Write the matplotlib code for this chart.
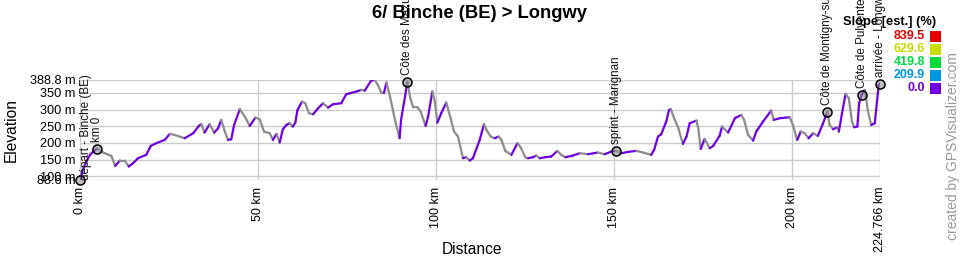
import numpy as np
import matplotlib
matplotlib.use("Agg")
import matplotlib.pyplot as plt
from matplotlib.collections import LineCollection
from matplotlib.patches import Rectangle

plt.rcParams['font.family'] = ['Liberation Sans', 'DejaVu Sans']

# ---------------- data ----------------
dist_km = [0.0, 0.8, 1.8, 2.8, 3.7, 4.9, 6.5, 8.8, 9.9, 11.2, 12.6, 13.7, 14.9, 16.3, 18.6,
           19.9, 21.4, 23.8, 25.2, 26.6, 28.0, 29.4, 31.8, 33.4, 34.1, 35.0, 36.4, 37.7,
           38.8, 39.7, 40.7, 41.6, 42.5, 43.3, 44.9, 46.3, 47.7, 49.3, 50.5, 51.7, 53.3,
           54.2, 55.2, 56.1, 57.0, 58.0, 58.9, 59.8, 60.5, 61.1, 62.4, 63.3, 64.3, 65.5,
           66.9, 68.3, 69.7, 71.1, 73.4, 74.8, 75.8, 77.6, 79.0, 80.0, 81.8, 82.8, 83.7,
           84.7, 85.4, 86.1, 87.1, 88.5, 89.8, 90.2, 91.0, 92.0, 92.8, 93.6, 94.8, 95.7,
           97.1, 97.8, 99.0, 99.7, 100.4, 101.5, 102.9, 104.2, 105.1, 106.2, 107.6, 108.5,
           109.5, 110.4, 112.3, 113.5, 114.2, 115.4, 116.5, 117.6, 118.4, 119.5, 121.2,
           122.9, 123.8, 125.1, 125.9, 127.3, 128.2, 129.2, 130.6, 132.4, 134.1, 135.2,
           136.4, 138.5, 140.4, 142.7, 145.5, 147.4, 149.3, 150.5, 152.1, 154.0, 156.3,
           158.2, 160.5, 161.3, 162.4, 163.3, 164.7, 165.5, 166.0, 167.1, 168.0, 169.4,
           170.4, 171.3, 173.2, 173.7, 174.4, 175.5, 176.9, 177.9, 179.7, 180.4, 182.1,
           184.0, 185.8, 186.6, 187.7, 189.1, 190.0, 191.9, 194.2, 194.9, 196.6, 199.4,
           200.3, 201.5, 202.5, 203.6, 204.7, 206.0, 207.3, 208.7, 210.0, 210.6, 211.6,
           212.8, 213.2, 214.1, 215.1, 216.0, 216.9, 217.5, 218.4, 218.9, 219.6, 220.5,
           221.4, 222.3, 223.3, 224.4, 224.766]
elev_m = [88.6, 119, 144, 164, 174, 183, 171, 161, 131, 147, 147, 129, 139, 154, 164,
          191, 199, 209, 227, 224, 219, 214, 229, 251, 256, 231, 256, 231,
          244, 269, 234, 209, 211, 254, 301, 279, 251, 276, 271, 234, 229,
          209, 227, 201, 241, 254, 259, 249, 261, 299, 324, 319, 289, 286,
          304, 319, 306, 316, 319, 346, 349, 354, 359, 357, 387, 388.8, 374,
          350, 350, 381, 339, 269, 214, 269, 319, 384, 334, 307, 307, 294,
          251, 279, 354, 324, 261, 289, 321, 271, 234, 219, 154, 157,
          147, 154, 209, 256, 239, 219, 214, 219, 209, 176, 164,
          199, 187, 157, 154, 157, 162, 154, 157, 159, 176, 164,
          157, 162, 169, 166, 171, 166, 174, 176, 169, 173, 176,
          171, 164, 179, 219, 226, 264, 299, 301, 269, 248, 197,
          219, 259, 267, 244, 182, 212, 184, 191, 221, 249, 231,
          274, 284, 269, 224, 207, 234, 264, 297, 269, 274, 277,
          254, 209, 234, 229, 214, 229, 221, 257, 294, 254, 241,
          247, 234, 289, 347, 334, 264, 247, 249, 319, 344, 359,
          294, 254, 259, 374, 378]

marker_km = [0.0, 4.9, 92.0, 150.5, 210.0, 219.6, 224.766]
marker_m = [88.6, 183, 384, 176, 294, 344, 378]
marker_labels = ["départ - Binche (BE)", "km 0", "Côte des Mazures", "sprint - Marignan",
                 "Côte de Montigny-sur-Chiers", "Côte de Pulventeux", "arrivée - Longwy"]

ytick_vals = [88.6, 100, 150, 200, 250, 300, 350, 388.8]
ytick_labels = ["88.6 m", "100 m", "150 m", "200 m", "250 m", "300 m", "350 m", "388.8 m"]
xtick_vals = [0, 50, 100, 150, 200, 224.766]
xtick_labels = ["0 km", "50 km", "100 km", "150 km", "200 km", "224.766 km"]

slope_values = ["839.5", "629.6", "419.8", "209.9", "0.0"]
slope_colors = ["#e60000", "#c8dc00", "#00dc3c", "#0096e6", "#6e00e6"]

# ---------------- figure ----------------
W, H = 960, 260
fig = plt.figure(figsize=(W / 100, H / 100), dpi=100)
ax = fig.add_axes([80 / W, 1 - 180 / H, 800 / W, 100 / H])
ax.set_xlim(0, 224.766)
ax.set_ylim(88.6, 388.8)
for s in ax.spines.values():
    s.set_visible(False)

ax.set_yticks(ytick_vals)
ax.set_yticklabels(ytick_labels, fontsize=9.2)
ax.set_xticks(xtick_vals)
ax.set_xticklabels(xtick_labels, fontsize=9, rotation=90)
ax.tick_params(length=0, pad=3)
ax.tick_params(axis='x', pad=5)
ax.grid(True, color="#cccccc", lw=1)
ax.set_axisbelow(True)

ax.set_ylabel("Elevation", fontsize=11.2, labelpad=8)
fig.text(472 / W, 1 - 250 / H, "Distance", ha='center', va='center', fontsize=11.2)

# profile coloured by slope direction
x = np.array(dist_km)
y = np.array(elev_m)
segs = np.stack([np.column_stack([x[:-1], y[:-1]]), np.column_stack([x[1:], y[1:]])], axis=1)
cols = [slope_colors[-1] if y[i + 1] > y[i] else "#8c8c8c" for i in range(len(x) - 1)]
lc = LineCollection(segs, colors=cols, linewidths=1.6, capstyle='round', joinstyle='round', zorder=3)
ax.add_collection(lc)

# waypoints
ax.plot(marker_km, marker_m, 'o', ms=6.5, mfc=(0.55, 0.55, 0.55, 0.55), mec='black', mew=1.1,
        zorder=5, clip_on=False)
for i, (mk, mm, lab) in enumerate(zip(marker_km, marker_m, marker_labels)):
    dx = 4.5 if i == 0 else 0
    dy = 0 if i == 0 else 5
    ax.annotate(lab, (mk, mm), xytext=(dx, dy), textcoords='offset points', rotation=90,
                ha='center', va='bottom', fontsize=8.4, color='#111111',
                annotation_clip=False, zorder=6)

# title
fig.text(479 / W, 1 - 14 / H, "6/ Binche (BE) > Longwy", ha='center', va='center',
         fontsize=13.2, fontweight='bold')

# slope legend
fig.text(890 / W, 1 - 22.5 / H, "Slope [est.] (%)", ha='center', va='center',
         fontsize=9.3, fontweight='bold')
for i, (v, c) in enumerate(zip(slope_values, slope_colors)):
    yy = 36 + i * 13.1
    fig.text(925 / W, 1 - yy / H, v, ha='right', va='center', fontsize=9,
             fontweight='bold', color=c)
    fig.add_artist(Rectangle((930 / W, 1 - (yy + 5.5) / H), 11 / W, 11 / H,
                             transform=fig.transFigure, facecolor=c, edgecolor='none'))

fig.text(953 / W, 1 - 146 / H, "created by GPSVisualizer.com", rotation=90, ha='center',
         va='center', fontsize=10, color='#9a9a9a')

fig.savefig("out.png", dpi=100)
